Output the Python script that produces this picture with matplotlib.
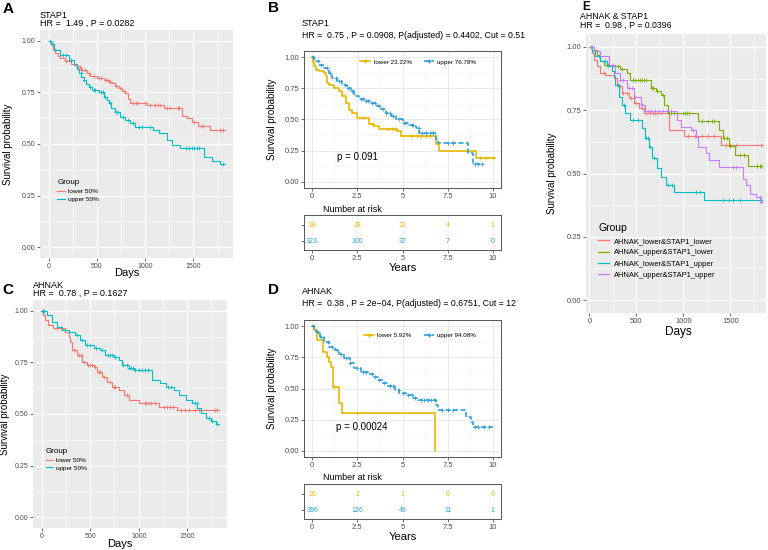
import numpy as np
import matplotlib
matplotlib.use('Agg')
import matplotlib.pyplot as plt
from matplotlib.lines import Line2D

plt.rcParams['font.family'] = ['Liberation Sans', 'DejaVu Sans']

# ---- data ----
# A: STAP1, median split (days)
a_lo_t = [0, 20, 45, 69, 100, 120, 170, 230, 293, 340, 397, 430, 500, 569, 620, 655, 690, 724, 760, 793,
          820, 845, 1017, 1190, 1385, 1430, 1483, 1552, 1672, 1830]
a_lo_s = [1.0, 0.985, 0.96, 0.94, 0.925, 0.915, 0.905, 0.89, 0.874, 0.858, 0.842, 0.83, 0.818, 0.81, 0.80,
          0.794, 0.782, 0.77, 0.758, 0.745, 0.72, 0.70, 0.689, 0.673, 0.635, 0.624, 0.608, 0.587, 0.567, 0.567]
a_lo_c = [30, 60, 180, 260, 300, 320, 350, 380, 420, 470, 520, 540, 590, 610, 640, 700, 740, 780, 870, 900,
          930, 1000, 1050, 1100, 1130, 1150, 1230, 1260, 1340, 1350, 1510, 1580, 1600, 1780, 1810]
a_up_t = [0, 25, 52, 120, 207, 259, 290, 310, 340, 362, 390, 414, 448, 517, 569, 600, 621, 650, 690, 741,
          793, 845, 897, 1086, 1138, 1224, 1276, 1362, 1613, 1693, 1779, 1830]
a_up_s = [1.0, 0.987, 0.955, 0.93, 0.906, 0.882, 0.862, 0.842, 0.826, 0.81, 0.79, 0.777, 0.76, 0.753, 0.729,
          0.713, 0.697, 0.675, 0.656, 0.632, 0.616, 0.6, 0.584, 0.568, 0.552, 0.519, 0.495, 0.479, 0.438,
          0.419, 0.403, 0.403]
a_up_c = [10, 40, 150, 180, 230, 330, 370, 430, 470, 480, 540, 560, 580, 640, 700, 720, 770, 820, 870, 940,
          970, 1050, 1420, 1450, 1480, 1510, 1540, 1560, 1810]

# C: AHNAK, median split (days)
c_lo_t = [0, 17, 34, 69, 121, 241, 276, 293, 310, 362, 414, 466, 534, 569, 621, 672, 724, 793, 845, 896,
          1000, 1207, 1397, 1827]
c_lo_s = [1.0, 0.98, 0.956, 0.932, 0.916, 0.9, 0.875, 0.851, 0.81, 0.786, 0.754, 0.738, 0.73, 0.705, 0.681,
          0.657, 0.633, 0.617, 0.592, 0.568, 0.552, 0.536, 0.52, 0.52]
c_lo_c = [5, 160, 200, 330, 380, 400, 440, 480, 500, 520, 550, 590, 600, 640, 700, 750, 760, 880, 1060,
          1080, 1110, 1130, 1170, 1260, 1290, 1320, 1350, 1440, 1480, 1520, 1580, 1620, 1790, 1810]
c_up_t = [0, 52, 103, 155, 207, 280, 345, 397, 448, 534, 603, 655, 741, 793, 827, 896, 948, 1138, 1224,
          1276, 1362, 1414, 1483, 1552, 1603, 1638, 1690, 1741, 1793, 1827]
c_up_s = [1.0, 0.98, 0.948, 0.924, 0.908, 0.9, 0.883, 0.859, 0.835, 0.819, 0.81, 0.786, 0.778, 0.762, 0.738,
          0.722, 0.714, 0.665, 0.649, 0.63, 0.617, 0.592, 0.568, 0.552, 0.528, 0.503, 0.479, 0.468, 0.451, 0.451]
c_up_c = [10, 20, 360, 420, 470, 500, 560, 620, 680, 700, 720, 760, 840, 880, 900, 920, 940, 960, 1000,
          1030, 1060, 1100, 1300, 1330, 1580, 1600, 1720, 1760, 1810]

# B: STAP1, best cut (years)
b_lo_t = [0, 0.05, 0.09, 0.2, 0.37, 0.65, 0.74, 0.83, 0.93, 1.2, 1.48, 1.67, 1.85, 2.04, 2.22, 2.5, 3.15,
          3.43, 3.7, 4.72, 4.9, 6.85, 7.0, 9.04, 10.1]
b_lo_s = [1.0, 0.96, 0.928, 0.9, 0.888, 0.875, 0.848, 0.795, 0.773, 0.755, 0.728, 0.688, 0.635, 0.58, 0.555,
          0.515, 0.461, 0.445, 0.42, 0.408, 0.368, 0.30, 0.245, 0.187, 0.187]
b_lo_c = [2.8, 3.3, 4.2, 4.4, 4.6, 5.5, 5.8, 6.0, 6.3, 6.5, 9.3, 9.6, 10.0]
b_up_t = [0, 0.1, 0.19, 0.37, 0.65, 0.93, 1.11, 1.39, 1.67, 1.94, 2.13, 2.31, 2.59, 2.96, 3.24, 3.61, 3.8,
          4.07, 4.35, 4.63, 5.0, 5.37, 5.74, 5.93, 6.85, 6.94, 8.61, 8.89, 9.45]
b_up_s = [1.0, 0.985, 0.968, 0.941, 0.915, 0.875, 0.835, 0.808, 0.781, 0.755, 0.728, 0.688, 0.667, 0.648,
          0.629, 0.608, 0.581, 0.555, 0.528, 0.501, 0.469, 0.453, 0.435, 0.395, 0.341, 0.315, 0.235, 0.14, 0.14]
b_up_c = [0.05, 0.3, 0.5, 0.8, 1.0, 1.3, 1.5, 1.8, 2.0, 2.2, 2.7, 2.8, 3.0, 3.1, 3.3, 3.5, 3.7, 3.9, 4.1,
          4.3, 4.5, 4.8, 5.1, 5.2, 5.5, 5.6, 5.9, 6.1, 6.3, 6.5, 6.7, 7.5, 7.8, 9.0, 9.2, 9.4]

# D: AHNAK, best cut (years)
d_lo_t = [0, 0.13, 0.26, 0.59, 0.81, 0.92, 1.05, 1.14, 1.51, 1.66, 6.81]
d_lo_s = [1.0, 0.968, 0.888, 0.795, 0.755, 0.715, 0.675, 0.515, 0.381, 0.301, 0.0]
d_lo_c = [1.2, 2.5]
d_up_t = [0, 0.1, 0.22, 0.41, 0.68, 0.96, 1.24, 1.51, 1.79, 2.07, 2.34, 2.71, 3.08, 3.36, 3.63, 3.91, 4.19,
          4.56, 4.83, 5.2, 5.57, 5.85, 6.86, 6.96, 8.52, 8.8, 8.89, 10.0]
d_up_s = [1.0, 0.98, 0.955, 0.915, 0.875, 0.835, 0.808, 0.781, 0.741, 0.701, 0.661, 0.635, 0.613, 0.595,
          0.568, 0.547, 0.523, 0.488, 0.461, 0.448, 0.421, 0.408, 0.368, 0.328, 0.275, 0.235, 0.187, 0.187]
d_up_c = [0.05, 0.3, 0.5, 0.9, 1.1, 1.4, 1.6, 1.9, 2.1, 2.5, 2.8, 3.0, 3.3, 3.5, 3.7, 4.0, 4.3, 4.5, 4.8,
          5.0, 5.3, 5.5, 5.7, 6.0, 6.2, 6.4, 6.6, 6.8, 7.2, 7.5, 7.8, 9.0, 9.2, 9.5, 9.8]

risk_times = [0, 2.5, 5, 7.5, 10]
b_risk_lo = [99, 28, 13, 4, 1]
b_risk_up = [323, 100, 37, 7, 0]
d_risk_lo = [26, 2, 1, 0, 0]
d_risk_up = [396, 126, 49, 11, 1]

# E: AHNAK & STAP1, four groups (days)
e_names = ['AHNAK_lower&STAP1_lower', 'AHNAK_upper&STAP1_lower',
           'AHNAK_lower&STAP1_upper', 'AHNAK_upper&STAP1_upper']
e_t = [
    [0, 25, 43, 79, 114, 168, 257, 293, 346, 418, 471, 525, 579, 846, 1007, 1400, 1846],
    [0, 43, 79, 114, 150, 239, 329, 400, 436, 650, 704, 757, 793, 836, 1150, 1382, 1418, 1489, 1543, 1686, 1828],
    [0, 25, 61, 114, 186, 239, 257, 275, 311, 346, 382, 436, 561, 596, 632, 668, 721, 757, 811, 900, 1221, 1828],
    [0, 43, 114, 204, 275, 329, 400, 471, 543, 596, 936, 971, 1079, 1132, 1150, 1239, 1275, 1382, 1632, 1668,
     1704, 1775, 1811, 1828],
]
e_s = [
    [1.0, 0.976, 0.95, 0.923, 0.897, 0.89, 0.877, 0.844, 0.817, 0.798, 0.778, 0.758, 0.738, 0.672, 0.648, 0.612, 0.612],
    [1.0, 0.989, 0.97, 0.943, 0.93, 0.923, 0.913, 0.897, 0.87, 0.837, 0.824, 0.811, 0.771, 0.738, 0.709, 0.672,
     0.639, 0.608, 0.573, 0.529, 0.529],
    [1.0, 0.983, 0.963, 0.943, 0.923, 0.903, 0.884, 0.85, 0.804, 0.771, 0.738, 0.712, 0.679, 0.639, 0.606, 0.56,
     0.52, 0.487, 0.454, 0.427, 0.397, 0.397],
    [1.0, 0.983, 0.963, 0.93, 0.897, 0.87, 0.837, 0.804, 0.771, 0.745, 0.712, 0.685, 0.672, 0.646, 0.606, 0.579,
     0.553, 0.524, 0.48, 0.454, 0.421, 0.407, 0.388, 0.388],
]
e_c = [
    [150, 310, 330, 360, 400, 440, 500, 560, 600, 640, 680, 700, 720, 760, 1050, 1120, 1200, 1260, 1330, 1450,
     1500, 1560, 1830],
    [20, 200, 300, 350, 460, 480, 520, 540, 560, 580, 600, 660, 680, 720, 780, 850, 870, 900, 1000, 1020, 1040,
     1060, 1200, 1260, 1300, 1330, 1430, 1460, 1500, 1600, 1640, 1780, 1810, 1830],
    [100, 170, 300, 370, 460, 520, 600, 620, 640, 690, 840, 880, 1130, 1180, 1420, 1480, 1530, 1600, 1820],
    [30, 250, 330, 360, 420, 450, 480, 560, 620, 650, 700, 740, 780, 820, 870, 1100, 1530, 1560, 1810, 1820],
]

RED, CYAN = '#F8766D', '#00BFC4'
E_COLORS = ['#F8766D', '#7CAE00', '#00BFC4', '#C77CFF']
GOLD, BLUE = '#E7B800', '#2E9FDF'

W, H = 768, 550
fig = plt.figure(figsize=(W / 100, H / 100), dpi=100)


def px_axes(x0, y0, x1, y1):
    return fig.add_axes([x0 / W, 1 - y1 / H, (x1 - x0) / W, (y1 - y0) / H])


def px_text(x, y, s, **kw):
    kw.setdefault('va', 'center')
    fig.text(x / W, 1 - y / H, s, **kw)


def km(ax, t, s, cens, color, ls='-', lw=0.8, ms=3.5):
    t = np.asarray(t, float)
    s = np.asarray(s, float)
    ax.step(t, s, where='post', color=color, lw=lw, ls=ls)
    c = np.asarray(cens, float)
    idx = np.searchsorted(t, c, side='right') - 1
    ax.plot(c, s[idx], ls='none', marker='+', color=color, ms=ms, mew=0.6)


def gg_gray(ax, xlim, ylim, xmaj, xmin, size=5):
    ax.set_facecolor('#EBEBEB')
    for sp in ax.spines.values():
        sp.set_visible(False)
    ax.set_xlim(xlim)
    ax.set_ylim(ylim)
    ax.set_xticks(xmaj)
    ax.set_xticks(xmin, minor=True)
    ax.set_yticks([0, 0.25, 0.5, 0.75, 1.0])
    ax.set_yticks([0.125, 0.375, 0.625, 0.875], minor=True)
    ax.set_yticklabels(['0.00', '0.25', '0.50', '0.75', '1.00'])
    ax.grid(which='major', color='white', lw=0.9)
    ax.grid(which='minor', color='white', lw=0.45)
    ax.set_axisbelow(True)
    ax.tick_params(which='major', length=2, width=0.5, color='#333333', labelcolor='#4D4D4D',
                   labelsize=size, pad=1.5)
    ax.tick_params(which='minor', length=0)


def bw_box(ax, size=5.5):
    ax.set_facecolor('white')
    for sp in ax.spines.values():
        sp.set_color('#555555')
        sp.set_linewidth(0.7)
    ax.tick_params(which='major', length=2, width=0.5, color='#333333', labelcolor='#4D4D4D',
                   labelsize=size, pad=1.5)
    ax.tick_params(which='minor', length=0)


def median_panel(box, letter, letter_xy, title, hr, lo, up, legend_xy, ylab_x, xlab_xy):
    x0, y0, x1, y1 = box
    ax = px_axes(x0, y0, x1, y1)
    km(ax, *lo, RED)
    km(ax, *up, CYAN)
    gg_gray(ax, (-90, 1910), (-0.053, 1.053), [0, 500, 1000, 1500], [250, 750, 1250, 1750])
    handles = [Line2D([], [], color=RED, lw=0.8), Line2D([], [], color=CYAN, lw=0.8)]
    ax.legend(handles, ['lower 50%', 'upper 50%'], title='Group', loc='upper left',
              bbox_to_anchor=legend_xy, frameon=False, fontsize=4.6, title_fontsize=5.8,
              handlelength=1.2, handletextpad=0.5, labelspacing=0.35, alignment='left')
    px_text(x0, y0 - 15, title, fontsize=6.5)
    px_text(x0, y0 - 7, hr, fontsize=6.5)
    px_text(*letter_xy, letter, fontsize=11, fontweight='bold')
    px_text(ylab_x, (y0 + y1) / 2, 'Survival probability', fontsize=7, rotation=90, ha='center')
    px_text(*xlab_xy, 'Days', fontsize=8, ha='center')
    return ax


median_panel((40, 30, 233, 258), 'A', (3, 9), 'STAP1', 'HR =  1.49 , P = 0.0282',
             (a_lo_t, a_lo_s, a_lo_c), (a_up_t, a_up_s, a_up_c),
             (0.06, 0.37), 8, (127, 273))
median_panel((33, 300, 227, 528), 'C', (2, 290), 'AHNAK', 'HR =  0.78 , P = 0.1627',
             (c_lo_t, c_lo_s, c_lo_c), (c_up_t, c_up_s, c_up_c),
             (0.035, 0.375), 5, (120, 544))


def cut_panel(top, letter, letter_y, title, hr, lo, up, lo_lab, up_lab, pval, pxy, leg_xy, rlo, rup):
    x0, x1 = 304, 501
    ax = px_axes(x0, top, x1, top + 137)
    km(ax, *lo, GOLD, lw=1.2, ms=3)
    km(ax, *up, BLUE, ls=(0, (3, 1.5)), lw=1.2, ms=3)
    bw_box(ax)
    ax.set_xlim(-0.45, 10.45)
    ax.set_ylim(-0.05, 1.05)
    ax.set_xticks(risk_times)
    ax.set_xticks([1.25, 3.75, 6.25, 8.75], minor=True)
    ax.set_xticklabels(['0', '2.5', '5', '7.5', '10'])
    ax.set_yticks([0, 0.25, 0.5, 0.75, 1.0])
    ax.set_yticks([0.125, 0.375, 0.625, 0.875], minor=True)
    ax.set_yticklabels(['0.00', '0.25', '0.50', '0.75', '1.00'])
    ax.grid(which='major', color='#E6E6E6', lw=0.6)
    ax.grid(which='minor', color='#F3F3F3', lw=0.4)
    ax.set_axisbelow(True)
    handles = [Line2D([], [], color=GOLD, lw=1.2, marker='+', ms=3),
               Line2D([], [], color=BLUE, lw=1.2, ls=(0, (3, 1.5)), marker='+', ms=3)]
    ax.legend(handles, [lo_lab, up_lab], loc='center', bbox_to_anchor=leg_xy, ncol=2, frameon=False,
              fontsize=4.5, handlelength=1.6, handletextpad=0.5, columnspacing=2.0)
    ax.text(*pxy, pval, fontsize=7, va='center')
    px_text(268, letter_y, letter, fontsize=11, fontweight='bold')
    px_text(302, top - 28, title, fontsize=6.5)
    px_text(302, top - 16, hr, fontsize=6.3)
    px_text(272, top + 68, 'Survival probability', fontsize=7, rotation=90, ha='center')

    # risk table
    rt = px_axes(x0, top + 164, x1, top + 199)
    bw_box(rt)
    rt.set_xlim(-0.45, 10.45)
    rt.set_ylim(-0.56, 1.63)
    rt.set_xticks(risk_times)
    rt.set_xticklabels(['0', '2.5', '5', '7.5', '10'])
    rt.set_yticks([0, 1])
    rt.set_yticklabels(['', ''])
    rt.grid(axis='x', color='#F0F0F0', lw=0.5)
    for t, n in zip(risk_times, rlo):
        rt.text(t, 1, str(n), color=GOLD, fontsize=5, ha='center', va='center')
    for t, n in zip(risk_times, rup):
        rt.text(t, 0, str(n), color=BLUE, fontsize=5, ha='center', va='center')
    px_text(323, top + 158, 'Number at risk', fontsize=6.5)
    px_text(403, top + 217, 'Years', fontsize=8, ha='center')


cut_panel(51, 'B', 8, 'STAP1', 'HR =  0.75 , P = 0.0908, P(adjusted) = 0.4402, Cut = 0.51',
          (b_lo_t, b_lo_s, b_lo_c), (b_up_t, b_up_s, b_up_c), 'lower 23.22%', 'upper 76.78%',
          'p = 0.091', (1.4, 0.2), (0.58, 0.92), b_risk_lo, b_risk_up)
cut_panel(320, 'D', 290, 'AHNAK', 'HR =  0.38 , P = 2e\u221204, P(adjusted) = 0.6751, Cut = 12',
          (d_lo_t, d_lo_s, d_lo_c), (d_up_t, d_up_s, d_up_c), 'lower 5.92%', 'upper 94.08%',
          'p = 0.00024', (1.3, 0.19), (0.59, 0.89), d_risk_lo, d_risk_up)

# E: four groups
axE = px_axes(586, 34, 766, 313)
for t, s, c, col in zip(e_t, e_s, e_c, E_COLORS):
    km(axE, t, s, c, col)
gg_gray(axE, (-37, 1878), (-0.051, 1.051), [0, 500, 1000, 1500], [250, 750, 1250, 1750], size=5.5)
handles = [Line2D([], [], color=col, lw=0.9) for col in E_COLORS]
axE.legend(handles, e_names, title='Group', loc='upper left', bbox_to_anchor=(0.03, 0.345),
           frameon=False, fontsize=5.4, title_fontsize=7.5, handlelength=1.5, handletextpad=0.6,
           labelspacing=0.55, alignment='left')
px_text(582, 0.5, 'E', fontsize=8.5, fontweight='bold', va='top')
px_text(580, 16.5, 'AHNAK & STAP1', fontsize=6.3)
px_text(580, 25, 'HR =  0.98 , P = 0.0396', fontsize=6.3)
px_text(552, 173, 'Survival probability', fontsize=7, rotation=90, ha='center')
px_text(678, 332, 'Days', fontsize=8.5, ha='center')

fig.savefig('out.png', dpi=100)
